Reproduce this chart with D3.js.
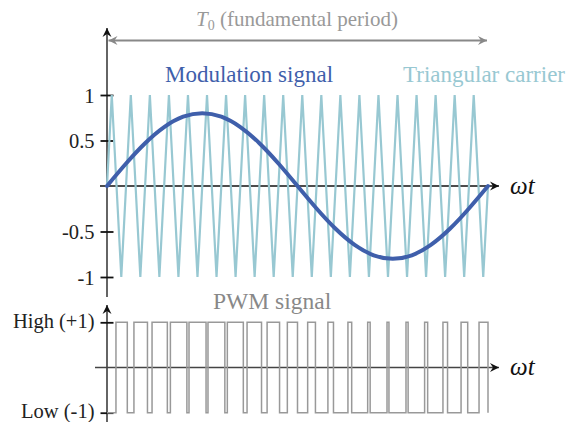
<!DOCTYPE html>
<html><head><meta charset="utf-8">
<script src="https://cdn.jsdelivr.net/npm/d3@7"></script>
<style>
html,body{margin:0;padding:0;background:#fff;}
</style></head>
<body><svg id="c" width="572" height="422"></svg>
<script>
// ---- data (angle in degrees over one fundamental period) ----
const modX = [0,18,36,54,72,90,108,126,144,162,180,198,216,234,252,270,288,306,324,342,360];
const modY = [0,0.247,0.470,0.647,0.761,0.8,0.761,0.647,0.470,0.247,0,-0.247,-0.470,-0.647,-0.761,-0.8,-0.761,-0.647,-0.470,-0.247,0];
const carrierX = [0,4.5,13.5,22.5,31.5,40.5,49.5,58.5,67.5,76.5,85.5,94.5,103.5,112.5,121.5,130.5,139.5,148.5,157.5,166.5,175.5,184.5,193.5,202.5,211.5,220.5,229.5,238.5,247.5,256.5,265.5,274.5,283.5,292.5,301.5,310.5,319.5,328.5,337.5,346.5,355.5,360];
const carrierY = [0,1,-1,1,-1,1,-1,1,-1,1,-1,1,-1,1,-1,1,-1,1,-1,1,-1,1,-1,1,-1,1,-1,1,-1,1,-1,1,-1,1,-1,1,-1,1,-1,1,-1,0];
const pwmOn  = [8.47,25.45,42.56,59.89,77.49,95.42,113.70,132.34,151.27,170.40,189.60,208.73,227.66,246.30,264.58,282.51,300.11,317.44,334.55,351.53];
const pwmOff = [19.18,38.23,57.02,75.48,93.59,111.35,128.81,146.01,163.05,180.00,196.95,213.99,231.20,248.65,266.41,284.52,302.98,321.77,340.82,360];
const topTicks = [1,0.5,-0.5,-1];
const topTickLabels = ["1","0.5","-0.5","-1"];
const botTicks = [1,-1];
const botTickLabels = ["High (+1)","Low (-1)"];

const FONT = "Liberation Serif";
const svg = d3.select("#c");
const x = d3.scaleLinear().domain([0,360]).range([107,488]);
const yT = d3.scaleLinear().domain([-1,1]).range([277,95]);
const yB = d3.scaleLinear().domain([-1,1]).range([412.7,322.3]);

const defs = svg.append("defs");
function mk(id,color){
  defs.append("marker").attr("id",id).attr("viewBox","-10 -5 11 10")
    .attr("refX",0).attr("refY",0).attr("markerWidth",11).attr("markerHeight",10)
    .attr("markerUnits","userSpaceOnUse").attr("orient","auto-start-reverse")
    .append("path").attr("d","M0,0 L-9,-4.5 L-6,0 L-9,4.5 Z").attr("fill",color);
}
mk("ab","#111"); mk("ag","#888");

// T0 arrow
svg.append("line").attr("x1",x(0)+1.5).attr("x2",x(360)-1).attr("y1",40.5).attr("y2",40.5)
  .attr("stroke","#888").attr("stroke-width",2)
  .attr("marker-start","url(#ag)").attr("marker-end","url(#ag)");
const t0 = svg.append("text").attr("x",297).attr("y",26).attr("text-anchor","middle")
  .attr("font-family",FONT).attr("fill","#999").attr("font-size",21);
t0.append("tspan").attr("font-style","italic").text("T");
t0.append("tspan").attr("font-size",14).attr("dy",4).text("0");
t0.append("tspan").attr("dy",-4).text(" (fundamental period)");

// axes lines
svg.append("line").attr("x1",x(0)).attr("x2",x(0)).attr("y1",297).attr("y2",28)
  .attr("stroke","#111").attr("stroke-width",1.3).attr("marker-end","url(#ab)");
svg.append("line").attr("x1",100).attr("x2",499).attr("y1",yT(0)).attr("y2",yT(0))
  .attr("stroke","#111").attr("stroke-width",1.3).attr("marker-end","url(#ab)");
svg.append("line").attr("x1",x(0)).attr("x2",x(0)).attr("y1",422).attr("y2",305)
  .attr("stroke","#111").attr("stroke-width",1.3).attr("marker-end","url(#ab)");
svg.append("line").attr("x1",95).attr("x2",499).attr("y1",yB(0)).attr("y2",yB(0))
  .attr("stroke","#444").attr("stroke-width",1.3).attr("marker-end","url(#ab)");

// tick axes
function styleAxis(g,dy){
  g.attr("font-family",FONT);
  g.select(".domain").remove();
  g.selectAll(".tick line").attr("x1",-6.5).attr("x2",6.5).attr("stroke","#111").attr("stroke-width",1.8);
  g.selectAll(".tick text").attr("font-family",FONT).attr("font-size",20.5).attr("fill","#222").attr("dy",dy);
}
svg.append("g").attr("transform",`translate(${x(0)},0)`)
  .call(d3.axisLeft(yT).tickValues(topTicks).tickFormat((d,i)=>topTickLabels[i]).tickSize(6.5).tickPadding(6))
  .call(styleAxis,"0.35em");
svg.append("g").attr("transform",`translate(${x(0)},0)`)
  .call(d3.axisLeft(yB).tickValues(botTicks).tickFormat((d,i)=>botTickLabels[i]).tickSize(6.5).tickPadding(6))
  .call(styleAxis,"0.24em");

// carrier
const carrier = carrierX.map((v,i)=>[v,carrierY[i]]);
svg.append("path").datum(carrier)
  .attr("d",d3.line().x(d=>x(d[0])).y(d=>yT(d[1])))
  .attr("fill","none").attr("stroke","#98c8d2").attr("stroke-width",2.2).attr("stroke-linejoin","miter");

// modulation
const mod = modX.map((v,i)=>[v,modY[i]]);
svg.append("path").datum(mod)
  .attr("d",d3.line().curve(d3.curveNatural).x(d=>x(d[0])).y(d=>yT(d[1])))
  .attr("fill","none").attr("stroke","#3f5fab").attr("stroke-width",4).attr("stroke-linecap","round");

// PWM
const pwm = [[0,-1]];
pwmOn.forEach((on,i)=>{ pwm.push([on,-1],[on,1],[pwmOff[i],1],[pwmOff[i],-1]); });
svg.append("path").datum(pwm)
  .attr("d",d3.line().x(d=>x(d[0])).y(d=>yB(d[1])))
  .attr("fill","none").attr("stroke","#999").attr("stroke-width",1.5);

// labels
function lab(xp,yp,size,color,txt,italic){
  svg.append("text").attr("x",xp).attr("y",yp).attr("font-family",FONT).attr("font-size",size)
    .attr("fill",color).attr("font-style",italic?"italic":"normal").text(txt);
}
lab(165,82,23,"#3f5fab","Modulation signal");
lab(403,82,23,"#98c8d2","Triangular carrier");
lab(213,309,23.5,"#888","PWM signal");
lab(510,194,25,"#111","ωt",true);
lab(510,375,25,"#111","ωt",true);
</script></body></html>
